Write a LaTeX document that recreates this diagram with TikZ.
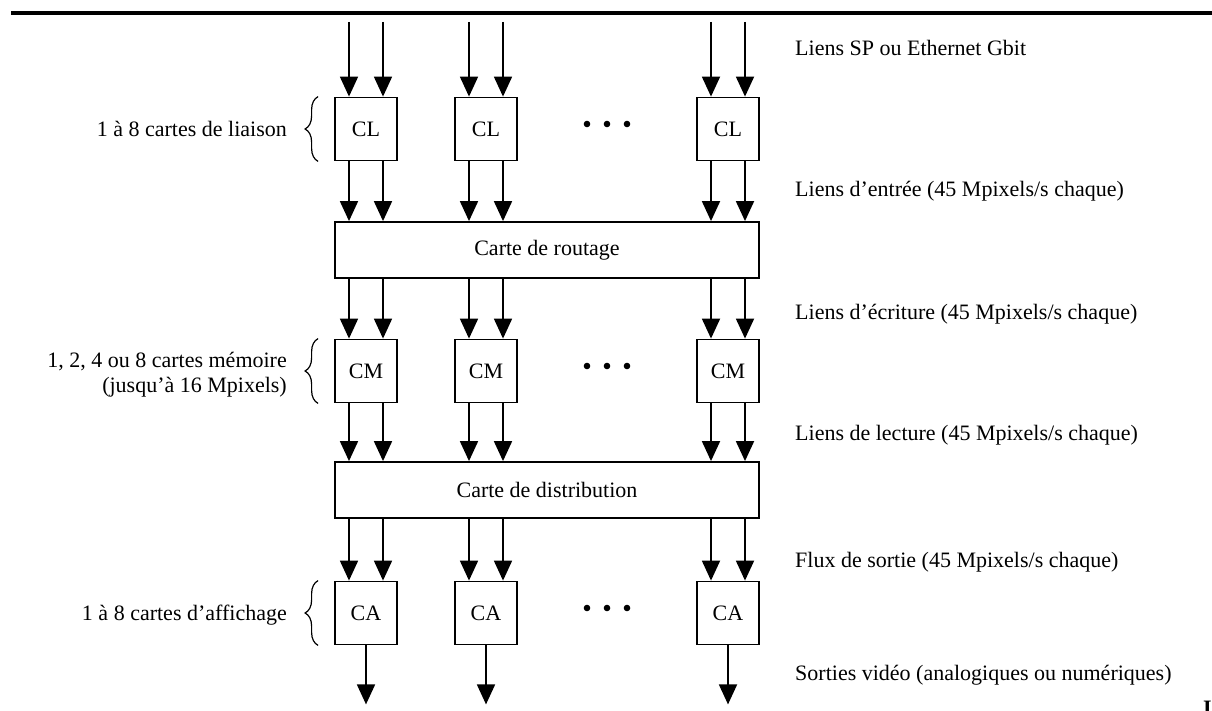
\documentclass[tikz,border=0pt]{standalone}
\usepackage{fontspec}
\setmainfont{Liberation Serif}
\usetikzlibrary{arrows.meta,decorations.pathreplacing}
\begin{document}
\begin{tikzpicture}[x=1pt,y=-1pt,
  txt/.style={font=\fontsize{22}{25}\selectfont,inner sep=0pt},
  card/.style={txt,draw,line width=1.8pt,minimum width=62pt,minimum height=63pt},
  wide/.style={txt,draw,line width=1.8pt,minimum width=424pt,minimum height=56pt},
  link/.style={line width=1.8pt,-{Triangle[width=18pt,length=20pt]}},
  brc/.style={decorate,decoration={brace,amplitude=13pt},line width=1.2pt},
  dot/.style={fill=black}]
\useasboundingbox (0,0) rectangle (1212,711);
\clip (0,0) rectangle (1212,711);
% top rule
\draw[line width=3.3pt] (11,13) -- (1212,13);
% cards
\foreach \n/\x in {1/366,2/486,3/728} {
  \node[card] (cl\n) at (\x,129) {CL};
  \node[card] (cm\n) at (\x,371) {CM};
  \node[card] (ca\n) at (\x,613) {CA};
}
\node[wide] (rout) at (547,250) {Carte de routage};
\node[wide] (dist) at (547,490) {Carte de distribution};
% links
\foreach \n in {1,2,3} {
  \foreach \d in {-17,17} {
    \draw[link] ([xshift=\d pt]cl\n.north |- 0,22) -- ([xshift=\d pt]cl\n.north);
    \draw[link] ([xshift=\d pt]cl\n.south) -- ([xshift=\d pt]cl\n.south |- rout.north);
    \draw[link] ([xshift=\d pt]cm\n.north |- rout.south) -- ([xshift=\d pt]cm\n.north);
    \draw[link] ([xshift=\d pt]cm\n.south) -- ([xshift=\d pt]cm\n.south |- dist.north);
    \draw[link] ([xshift=\d pt]ca\n.north |- dist.south) -- ([xshift=\d pt]ca\n.north);
  }
  \draw[link] (ca\n.south) -- ++(0,59);
}
% ellipsis dots
\foreach \y in {124,366,608} {
  \foreach \x in {587,607,627} {
    \fill[dot] (\x,\y) circle (3.3pt);
  }
}
% braces
\draw[brc] ([xshift=-16pt]cl1.south west) -- ([xshift=-16pt]cl1.north west);
\draw[brc] ([xshift=-16pt]cm1.south west) -- ([xshift=-16pt]cm1.north west);
\draw[brc] ([xshift=-16pt]ca1.south west) -- ([xshift=-16pt]ca1.north west);
% left labels
\node[txt,anchor=base east] (l1) at (287,137) {1 à 8 cartes de liaison};
\node[txt,anchor=base east] (l2) at (287,367) {1, 2, 4 ou 8 cartes mémoire};
\node[txt,anchor=base east] (l3) at (287,392) {(jusqu’à 16 Mpixels)};
\node[txt,anchor=base east] (l4) at (287,620) {1 à 8 cartes d’affichage};
% right labels
\node[txt,anchor=base west] (r1) at (795,56) {Liens SP ou Ethernet Gbit};
\node[txt,anchor=base west] (r2) at (795,197) {Liens d’entrée (45 Mpixels/s chaque)};
\node[txt,anchor=base west] (r3) at (795,319) {Liens d’écriture (45 Mpixels/s chaque)};
\node[txt,anchor=base west] (r4) at (795,440) {Liens de lecture (45 Mpixels/s chaque)};
\node[txt,anchor=base west] (r5) at (795,567) {Flux de sortie (45 Mpixels/s chaque)};
\node[txt,anchor=base west] (r6) at (795,680) {Sorties vidéo (analogiques ou numériques)};
% cut-off letter at bottom right
\node[txt,font=\bfseries\fontsize{22}{25}\selectfont,anchor=north west] (cut) at (1203,701) {I};
\end{tikzpicture}
\end{document}
